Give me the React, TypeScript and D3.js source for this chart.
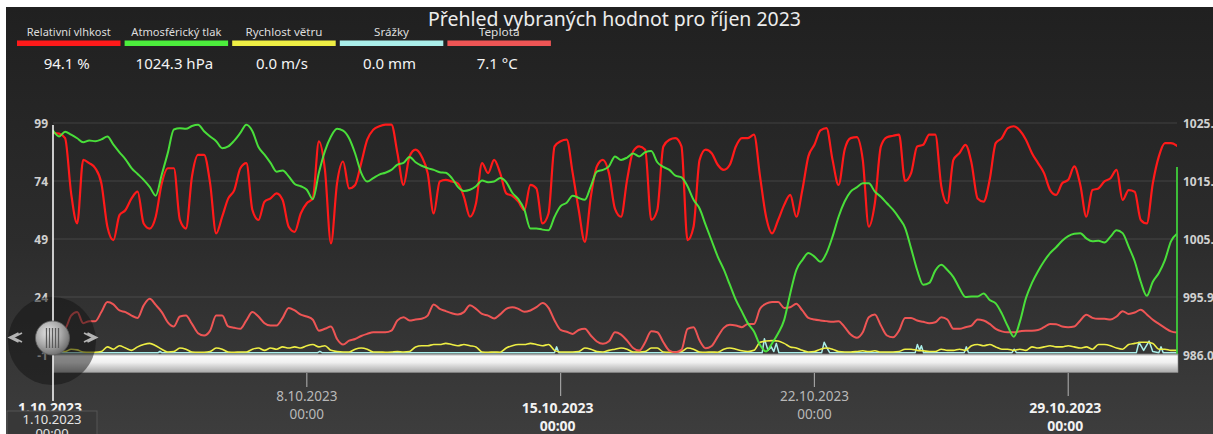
import React from 'react';
import * as d3 from 'd3';

// ---------- data ----------
const TITLE = 'Přehled vybraných hodnot pro říjen 2023';
const legendNames = ['Relativní vlhkost', 'Atmosférický tlak', 'Rychlost větru', 'Srážky', 'Teplota'];
const legendValues = ['94.1 %', '1024.3 hPa', '0.0 m/s', '0.0 mm', '7.1 °C'];
const seriesColors = ['#ff1a1a', '#4cee3c', '#eeee44', '#aaeeea', '#ee5555'];
const leftTicks = [99, 74, 49, 24, -1];
const rightTicks = [1025.6, 1015.7, 1005.8, 995.9, 986.0];
const dateTicks = ['2023-10-01', '2023-10-08', '2023-10-15', '2023-10-22', '2023-10-29'];
const START = Date.UTC(2023, 9, 1);
const END = Date.UTC(2023, 10, 1);
const STEP_HOURS = 4;

// relative humidity [%], every 4 hours from 1.10. 00:00
const humidity = [
  94.7, 94.4, 92.5, 68.7, 55.7, 83.1, 81.7, 79.5, 73.0, 54.3,
  48.5, 59.3, 61.5, 66.5, 69.4, 55.7, 53.5, 58.6, 73.0, 79.5,
  79.5, 57.2, 53.5, 76.0, 85.3, 85.3, 73.0, 51.4, 58.6, 66.5,
  70.1, 79.5, 81.7, 61.5, 57.2, 65.1, 66.5, 68.7, 65.8, 54.3,
  52.1, 60.0, 64.4, 66.5, 91.1, 78.8, 47.1, 73.0, 82.4, 70.8,
  72.3, 81.7, 91.8, 96.1, 97.6, 98.3, 98.3, 86.0, 72.3, 84.6,
  87.5, 84.6, 77.4, 60.0, 73.8, 74.5, 73.8, 73.0, 67.2, 58.6,
  64.4, 81.7, 77.4, 83.1, 77.4, 68.7, 67.6, 65.1, 61.5, 72.3,
  70.8, 55.7, 60.0, 88.9, 91.1, 91.8, 77.4, 61.5, 47.8, 67.2,
  80.3, 83.1, 77.4, 62.0, 58.6, 74.5, 86.7, 88.9, 87.5, 57.2,
  61.5, 88.9, 91.8, 92.5, 88.9, 48.5, 54.3, 83.1, 87.5, 86.0,
  81.0, 78.8, 81.0, 88.9, 92.5, 92.5, 94.0, 76.0, 58.6, 51.4,
  57.2, 63.7, 68.0, 58.6, 70.1, 84.6, 89.6, 95.8, 96.8, 83.1,
  72.3, 87.5, 92.5, 92.9, 83.1, 54.3, 64.4, 88.9, 92.9, 93.5,
  94.0, 74.0, 77.4, 88.9, 89.6, 94.0, 94.0, 71.6, 64.4, 83.1,
  86.0, 89.6, 81.7, 66.5, 65.1, 74.5, 90.3, 92.5, 96.8, 97.6,
  95.8, 91.8, 86.0, 81.7, 77.4, 70.1, 68.0, 73.0, 74.5, 80.3,
  72.3, 58.6, 70.1, 70.8, 73.8, 75.2, 78.8, 65.8, 70.1, 69.4,
  57.2, 55.7, 73.0, 84.6, 90.3, 90.3, 89.2,
];

// atmospheric pressure [hPa]
const pressure = [
  1024.3, 1023.3, 1024.1, 1023.6, 1023.0, 1022.3, 1022.6, 1022.5, 1022.8, 1023.3,
  1021.9, 1020.6, 1019.4, 1017.9, 1016.9, 1015.9, 1014.7, 1013.2, 1016.8, 1020.5,
  1024.5, 1024.7, 1024.6, 1025.1, 1025.3, 1024.2, 1023.3, 1022.5, 1021.3, 1021.6,
  1022.6, 1023.9, 1025.3, 1024.2, 1021.5, 1020.2, 1018.8, 1017.3, 1017.5, 1016.5,
  1015.2, 1014.8, 1014.2, 1012.6, 1017.1, 1020.8, 1023.3, 1024.6, 1024.3, 1023.0,
  1020.4, 1017.1, 1015.6, 1016.2, 1016.8, 1017.1, 1017.6, 1018.5, 1018.8, 1019.8,
  1018.9, 1018.3, 1017.9, 1017.6, 1017.2, 1017.1, 1016.2, 1014.7, 1014.0, 1014.2,
  1014.8, 1015.8, 1015.5, 1015.6, 1016.2, 1015.5, 1013.7, 1012.6, 1010.8, 1007.6,
  1007.6, 1007.4, 1007.3, 1009.6, 1011.4, 1012.0, 1013.2, 1012.8, 1012.5, 1014.8,
  1017.3, 1017.6, 1018.2, 1019.9, 1019.3, 1019.7, 1020.4, 1019.9, 1020.6, 1020.8,
  1018.9, 1018.1, 1017.6, 1016.6, 1016.3, 1014.8, 1012.5, 1011.0, 1008.2, 1005.5,
  1002.8, 1000.6, 998.0, 995.4, 993.4, 991.4, 990.0, 987.7, 986.6, 988.0,
  989.7, 992.0, 996.5, 1000.5, 1002.2, 1003.4, 1002.8, 1001.9, 1003.4, 1006.2,
  1009.6, 1012.2, 1013.9, 1014.6, 1015.3, 1015.3, 1013.9, 1013.0, 1011.9, 1010.8,
  1009.4, 1007.7, 1004.2, 1000.5, 998.0, 998.3, 1000.4, 1001.4, 1000.5, 999.3,
  997.4, 995.9, 996.0, 996.0, 996.5, 995.4, 994.8, 993.1, 990.9, 989.1,
  991.7, 995.7, 998.3, 1000.3, 1002.0, 1003.4, 1004.4, 1005.5, 1006.3, 1006.7,
  1006.8, 1005.9, 1005.4, 1005.5, 1005.2, 1006.2, 1007.3, 1006.8, 1004.5, 1002.0,
  998.5, 996.1, 998.5, 1000.0, 1002.2, 1005.4, 1006.7,
];

// temperature [°C]
const temperature = [
  8.5, 9.5, 10.3, 16.0, 17.5, 12.7, 13.6, 13.6, 17.5, 21.8,
  20.8, 18.2, 17.5, 16.0, 15.0, 20.4, 23.2, 20.6, 17.5, 13.1,
  11.3, 15.6, 16.0, 12.4, 8.4, 7.4, 9.5, 16.0, 16.0, 11.3,
  10.7, 10.3, 13.9, 17.5, 15.6, 12.7, 11.7, 11.7, 15.0, 19.3,
  18.2, 16.4, 15.6, 14.2, 9.5, 10.3, 11.3, 5.9, 3.5, 5.2,
  5.9, 7.2, 8.1, 8.8, 8.8, 8.8, 9.5, 13.9, 15.3, 13.9,
  14.3, 14.6, 16.0, 20.8, 18.9, 17.9, 17.0, 16.5, 17.5, 20.4,
  18.9, 16.7, 16.0, 14.7, 16.5, 18.9, 19.6, 18.9, 17.6, 18.2,
  19.6, 21.4, 19.3, 13.9, 9.8, 9.0, 8.1, 9.8, 10.3, 7.4,
  4.8, 3.8, 4.9, 8.8, 7.8, 5.2, 2.0, 0.9, 4.5, 9.2,
  8.8, 4.5, 0.9, 0.2, 1.2, 10.3, 11.0, 5.2, 1.9, 2.9,
  6.9, 10.7, 12.0, 11.7, 11.0, 12.4, 12.4, 18.9, 21.1, 21.8,
  21.8, 19.3, 19.6, 21.1, 18.2, 15.0, 14.3, 13.9, 13.6, 13.3,
  13.6, 11.0, 7.8, 6.4, 8.8, 15.3, 16.5, 11.7, 7.4, 6.6,
  9.5, 15.0, 15.0, 13.9, 13.3, 12.7, 13.1, 15.3, 14.3, 10.3,
  10.3, 11.0, 11.7, 14.3, 13.9, 12.4, 10.3, 9.2, 8.8, 8.8,
  9.2, 9.5, 9.5, 9.8, 11.0, 12.4, 12.3, 11.3, 11.0, 11.3,
  13.9, 16.3, 15.0, 14.6, 14.6, 14.3, 15.6, 17.9, 16.7, 17.3,
  18.5, 16.5, 14.2, 12.4, 10.7, 9.2, 8.7,
];

// wind speed [m/s]
const wind = [
  0.5, 0.8, 0.5, 1.5, 1.2, 0.3, 0.2, 0.2, 0.5, 2.5,
  1.5, 3.0, 2.0, 1.0, 2.5, 3.5, 4.0, 3.0, 1.5, 0.3,
  0.5, 2.0, 1.5, 0.3, 0.2, 0.2, 0.5, 2.0, 1.5, 0.3,
  0.2, 0.3, 0.3, 1.5, 2.0, 1.0, 2.0, 1.5, 2.5, 2.0,
  2.5, 2.0, 3.0, 3.5, 2.5, 3.0, 1.0, 0.5, 0.3, 0.3,
  1.5, 2.0, 1.5, 0.3, 0.3, 0.2, 0.3, 0.5, 0.3, 0.5,
  2.5, 3.0, 3.0, 3.5, 3.5, 4.0, 3.5, 3.0, 3.5, 3.0,
  2.5, 0.3, 0.2, 0.3, 0.2, 2.0, 3.0, 3.5, 3.5, 4.0,
  3.5, 3.0, 3.5, 1.0, 0.3, 0.3, 0.3, 0.5, 2.0, 1.5,
  0.5, 0.3, 1.0, 1.5, 2.0, 1.5, 0.3, 0.3, 0.5, 2.0,
  2.0, 0.3, 0.2, 0.3, 0.5, 2.0, 1.5, 0.3, 0.2, 0.3,
  0.2, 1.5, 2.0, 1.5, 0.8, 0.5, 1.0, 4.5, 5.0, 5.2,
  5.0, 4.0, 2.5, 2.0, 1.0, 0.3, 0.5, 1.5, 2.0, 1.5,
  0.5, 0.3, 0.3, 0.5, 0.8, 0.5, 0.8, 0.3, 0.3, 0.3,
  0.5, 1.5, 1.5, 1.0, 0.8, 0.5, 0.5, 1.5, 1.0, 1.0,
  1.5, 1.0, 3.0, 3.5, 3.0, 3.5, 2.5, 1.5, 1.5, 1.0,
  1.5, 1.0, 2.5, 2.0, 2.5, 3.0, 2.5, 2.5, 3.0, 2.5,
  2.0, 2.5, 1.5, 3.5, 3.5, 3.0, 2.0, 1.5, 3.5, 4.0,
  4.5, 4.5, 4.0, 1.5, 1.5, 1.0, 1.0,
];

// precipitation [mm] at the given day offsets from 1.10. 00:00
const rainDays = [0, 2.9, 2.95, 3.0, 7.3, 7.36, 7.42, 13.83, 13.89, 13.95, 19.56, 19.62, 19.72, 19.81, 19.88, 19.95, 20.02, 21.2, 21.27, 21.35, 21.42, 23.78, 23.84, 23.9, 23.95, 24.01, 25.13, 25.19, 25.25, 26.45, 26.51, 26.57, 29.88, 29.95, 30.08, 30.23, 30.33, 30.5, 30.56, 30.62, 31];
const rainMm = [0, 0, 0.6, 0, 0, 0.6, 0, 0, 2.5, 0, 0, 6.0, 1.0, 2.5, 0.5, 4.0, 0, 0, 4.5, 2.0, 0, 0, 3.5, 1.0, 3.0, 0, 0, 2.5, 0, 0, 1.5, 0, 0, 4.5, 1.0, 5.0, 0.5, 0, 2.5, 0, 0];

// ---------- layout ----------
const W = 1213;
const H = 434;
const PL = 53;
const PR = 1177;
const PT = 123;
const PB = 355;
const FONT = "'Noto Sans', 'DejaVu Sans', sans-serif";

const legendLabelWidths = [84, 90, 77, 35, 41];

export default function App() {
  const x = d3.scaleUtc().domain([START, END]).range([PL, PR]);
  const yL = d3.scaleLinear().domain([-1, 99]).range([PB, PT]);
  const yR = d3.scaleLinear().domain([986.0, 1025.6]).range([PB, PT]);
  const t = (i: number) => START + i * STEP_HOURS * 3600000;

  const lineL = d3.line<number>().x((_, i) => x(t(i))).y((d) => yL(d)).curve(d3.curveMonotoneX);
  const lineR = d3.line<number>().x((_, i) => x(t(i))).y((d) => yR(d)).curve(d3.curveMonotoneX);
  const rainLine = d3
    .line<number>()
    .x((_, i) => x(START + rainDays[i] * 86400000))
    .y((d) => yL(d));

  const fmtDate = d3.utcFormat('%-d.%-m.%Y');
  const fmtTime = d3.utcFormat('%H:%M');
  const dates = dateTicks.map((s) => new Date(s + 'T00:00:00Z'));

  const legendX0 = 17;
  const legendStep = 107.6;
  const legendW = 103.5;

  const knobCx = 52.5;
  const knobCy = 338;

  return (
    <svg width={W} height={H} style={{ position: 'absolute', left: 0, top: 0, display: 'block' }} fontFamily={FONT}>
      <defs>
        <linearGradient id="bg" x1="0" y1="0" x2="0" y2="1">
          <stop offset="0%" stopColor="#202020" />
          <stop offset="55%" stopColor="#2c2c2c" />
          <stop offset="100%" stopColor="#3d3d3d" />
        </linearGradient>
        <linearGradient id="bar" x1="0" y1="0" x2="0" y2="1">
          <stop offset="0%" stopColor="#9a9a9a" />
          <stop offset="12%" stopColor="#fafafa" />
          <stop offset="45%" stopColor="#f0f0f0" />
          <stop offset="100%" stopColor="#a8a8a8" />
        </linearGradient>
        <radialGradient id="knob" cx="0.38" cy="0.35" r="0.7">
          <stop offset="0%" stopColor="#e6e6e6" />
          <stop offset="55%" stopColor="#a8a8a8" />
          <stop offset="100%" stopColor="#6a6a6a" />
        </radialGradient>
        <clipPath id="plot">
          <rect x={PL} y={108} width={PR - PL} height={PB - 108} />
        </clipPath>
      </defs>

      <rect x={0} y={0} width={W} height={H} fill="#ffffff" />
      <rect x={6} y={7} width={W - 6} height={H - 7} fill="url(#bg)" />

      {/* title */}
      <text x={614.5} y={26} textAnchor="middle" fontSize={19} fill="#ececec" textLength={373} lengthAdjust="spacingAndGlyphs">
        {TITLE}
      </text>

      {/* legend */}
      {legendNames.map((name, i) => {
        const bx = legendX0 + i * legendStep;
        const cx = bx + legendW / 2;
        return (
          <g key={name}>
            <text x={cx} y={35.5} textAnchor="middle" fontSize={10.5} fill="#dddddd" textLength={legendLabelWidths[i]} lengthAdjust="spacingAndGlyphs">
              {name}
            </text>
            <rect x={bx} y={40.5} width={legendW} height={5.5} fill={seriesColors[i]} />
            <text x={cx - 2} y={69} textAnchor="middle" fontSize={15} fill="#f4f4f4">
              {legendValues[i]}
            </text>
          </g>
        );
      })}

      {/* grid */}
      {leftTicks.map((v) => (
        <line key={'g' + v} x1={PL} x2={PR} y1={yL(v)} y2={yL(v)} stroke="#ffffff" strokeOpacity={0.13} strokeWidth={1} />
      ))}

      {/* left axis labels */}
      {leftTicks.map((v) => (
        <text key={'l' + v} x={48} y={yL(v) + 4.5} textAnchor="end" fontSize={12} fontWeight="bold" fill="#d0d0d0">
          {v}
        </text>
      ))}
      {/* right axis labels */}
      {rightTicks.map((v) => (
        <text key={'r' + v} x={1183} y={yR(v) + 4.5} textAnchor="start" fontSize={12} fontWeight="bold" fill="#d0d0d0">
          {v.toFixed(1)}
        </text>
      ))}

      {/* series */}
      <g clipPath="url(#plot)" fill="none" strokeLinejoin="round" strokeLinecap="round">
        <path d={rainLine(rainMm) || ''} stroke={seriesColors[3]} strokeWidth={1.5} />
        <path d={lineL(wind) || ''} stroke={seriesColors[2]} strokeWidth={1.6} />
        <path d={lineL(temperature) || ''} stroke={seriesColors[4]} strokeWidth={2} />
        <path d={lineL(humidity) || ''} stroke={seriesColors[0]} strokeWidth={2.2} />
        <path d={lineR(pressure) || ''} stroke={seriesColors[1]} strokeWidth={2} strokeOpacity={0.92} />
      </g>

      {/* right pressure axis line */}
      <line x1={PR} x2={PR} y1={167} y2={PB} stroke="#3fcf3a" strokeWidth={1.8} />

      {/* scrollbar */}
      <rect x={PL} y={354} width={PR - PL + 1} height={18.5} fill="url(#bar)" stroke="#8a8a8a" strokeWidth={0.6} />

      {/* x axis ticks and labels */}
      {dates.map((d, i) => {
        const xx = x(d);
        const low = i % 2 === 0;
        const y1 = low ? 413 : 401;
        return (
          <g key={'x' + i}>
            {i > 0 && <line x1={xx} x2={xx} y1={373} y2={low ? 396 : 387} stroke="#a0a0a0" strokeWidth={1.2} />}
            <text x={xx - (low ? 3 : 0)} y={y1} textAnchor="middle" fontSize={low ? 14 : 13.5} fontWeight={low ? 'bold' : 'normal'} fill={low ? '#f2f2f2' : '#b8b8b8'}>
              {fmtDate(d)}
            </text>
            <text x={xx - (low ? 3 : 0)} y={y1 + 18} textAnchor="middle" fontSize={low ? 14 : 13.5} fontWeight={low ? 'bold' : 'normal'} fill={low ? '#f2f2f2' : '#b8b8b8'}>
              {fmtTime(d)}
            </text>
          </g>
        );
      })}

      {/* navigator knob */}
      <circle cx={52} cy={341} r={44} fill="#111111" fillOpacity={0.5} />
      <line x1={PL} x2={PL} y1={125} y2={401} stroke="#f4f4f4" strokeWidth={1.6} />
      <path d="M22,333 L13,337.5 L22,342 M18.5,333 L9.5,337.5 L18.5,342" fill="none" stroke="#b4b4b4" strokeWidth={1.8} />
      <path d="M84,333 L93,337.5 L84,342 M87.5,333 L96.5,337.5 L87.5,342" fill="none" stroke="#b4b4b4" strokeWidth={1.8} />
      <circle cx={knobCx} cy={knobCy} r={17} fill="url(#knob)" stroke="#5e5e5e" strokeWidth={0.8} />
      {[-6, -3, 0, 3, 6].map((o) => (
        <line key={'s' + o} x1={knobCx + o} x2={knobCx + o} y1={knobCy - 10} y2={knobCy + 10} stroke="#5a5a5a" strokeWidth={1.3} />
      ))}

      {/* tooltip box */}
      <rect x={7} y={411} width={90} height={30} fill="#383838" stroke="#555555" strokeWidth={1} />
      <text x={52} y={424} textAnchor="middle" fontSize={13} fill="#e4e4e4">
        {fmtDate(dates[0])}
      </text>
      <text x={52} y={438} textAnchor="middle" fontSize={13} fill="#e4e4e4">
        {fmtTime(dates[0])}
      </text>
    </svg>
  );
}
